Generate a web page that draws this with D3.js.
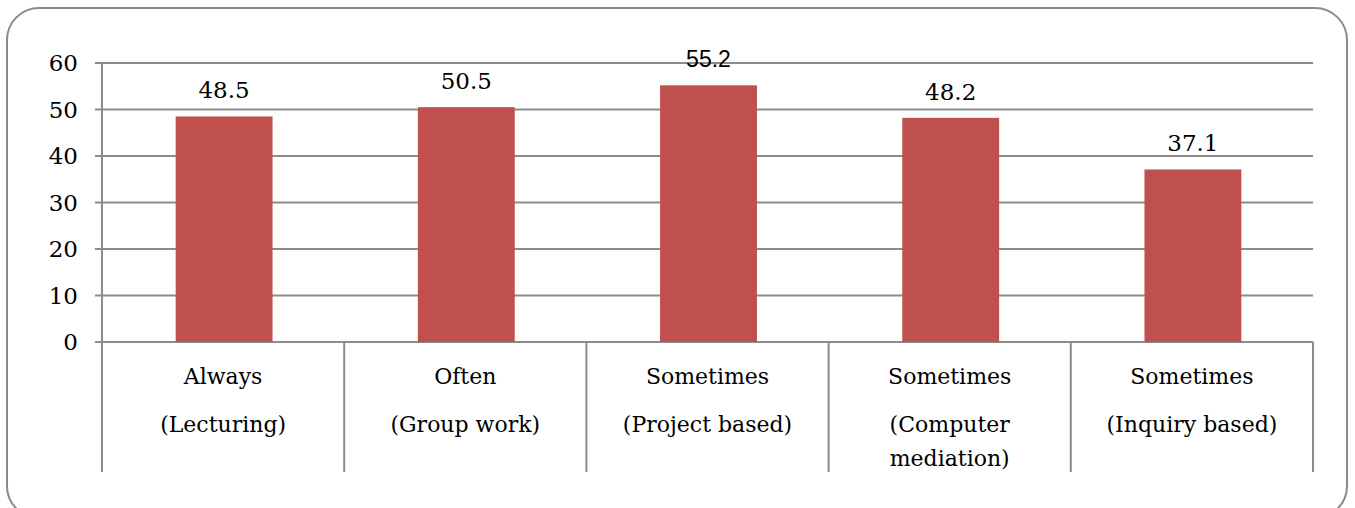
<!DOCTYPE html>
<html>
<head>
<meta charset="utf-8">
<script src="https://cdn.jsdelivr.net/npm/d3@7"></script>
<style>
  body { margin: 0; background: #fff; }
  svg { display: block; }
</style>
</head>
<body>
<svg id="chart" width="1355" height="508"></svg>
<script>
// chart data
const categories = ['Always (Lecturing)', 'Often (Group work)', 'Sometimes (Project based)', 'Sometimes (Computer mediation)', 'Sometimes (Inquiry based)']
const labelLines = [
    ['Always', '(Lecturing)'],
    ['Often', '(Group work)'],
    ['Sometimes', '(Project based)'],
    ['Sometimes', '(Computer', 'mediation)'],
    ['Sometimes', '(Inquiry based)']
]
const values = [48.5, 50.5, 55.2, 48.2, 37.1]
const yTicks = [0, 10, 20, 30, 40, 50, 60]

const serif = '"DejaVu Serif", serif'
const svg = d3.select('#chart')

// outer rounded frame
svg.append('rect')
    .attr('x', 7).attr('y', 8)
    .attr('width', 1340).attr('height', 510)
    .attr('rx', 32)
    .attr('fill', '#fff')
    .attr('stroke', '#8a8a8a')
    .attr('stroke-width', 2)

const plot = {left: 102, right: 1313, top: 63, bottom: 342}

const x = d3.scaleBand()
    .domain(categories)
    .range([plot.left, plot.right])
    .paddingInner(0.6)
    .paddingOuter(0.3)

const y = d3.scaleLinear()
    .domain([0, 60])
    .range([plot.bottom, plot.top])

// gridlines + tick marks
svg.append('g').selectAll('line')
    .data(yTicks)
    .enter().append('line')
    .attr('x1', plot.left - 7)
    .attr('x2', plot.right)
    .attr('y1', d => y(d))
    .attr('y2', d => y(d))
    .attr('stroke', '#8c8c8c')
    .attr('stroke-width', 2)

// y axis line
svg.append('line')
    .attr('x1', plot.left).attr('x2', plot.left)
    .attr('y1', plot.top).attr('y2', plot.bottom)
    .attr('stroke', '#8c8c8c')
    .attr('stroke-width', 2)

// tick labels
svg.append('g').selectAll('text')
    .data(yTicks)
    .enter().append('text')
    .attr('x', 78)
    .attr('y', d => y(d))
    .attr('dy', '0.36em')
    .attr('text-anchor', 'end')
    .style('font-family', serif)
    .style('font-size', '23px')
    .style('fill', '#000')
    .text(d => d)

// bars
svg.append('g').selectAll('rect')
    .data(values)
    .enter().append('rect')
    .attr('x', (d, i) => x(categories[i]) + 1)
    .attr('y', d => y(d))
    .attr('width', x.bandwidth())
    .attr('height', d => y(0) - y(d))
    .style('fill', '#c0504d')

// value labels
svg.append('g').selectAll('text')
    .data(values)
    .enter().append('text')
    .attr('x', (d, i) => x(categories[i]) + 1 + x.bandwidth() / 2)
    .attr('y', d => y(d) - 18)
    .attr('text-anchor', 'middle')
    .style('font-family', (d, i) => i == 2 ? '"Liberation Sans", sans-serif' : serif)
    .style('font-size', '23px')
    .style('fill', '#000')
    .text(d => d.toFixed(1))

// category separators under the axis
const step = x.step()
const edges = d3.range(categories.length + 1).map(i => plot.left + i * step)
svg.append('g').selectAll('line')
    .data(edges)
    .enter().append('line')
    .attr('x1', d => d).attr('x2', d => d)
    .attr('y1', plot.bottom).attr('y2', 472)
    .attr('stroke', '#8c8c8c')
    .attr('stroke-width', 2)

// category labels
const catG = svg.append('g').selectAll('text')
    .data(labelLines)
    .enter().append('text')
    .attr('text-anchor', 'middle')
    .style('font-family', serif)
    .style('font-size', '22px')
    .style('fill', '#000')

catG.selectAll('tspan')
    .data((d, i) => d.map((t, j) => ({t: t, j: j, i: i})))
    .enter().append('tspan')
    .attr('x', d => x(categories[d.i]) + x.bandwidth() / 2)
    .attr('y', d => d.j == 0 ? 384 : 432 + (d.j - 1) * 34)
    .text(d => d.t)
</script>
</body>
</html>
